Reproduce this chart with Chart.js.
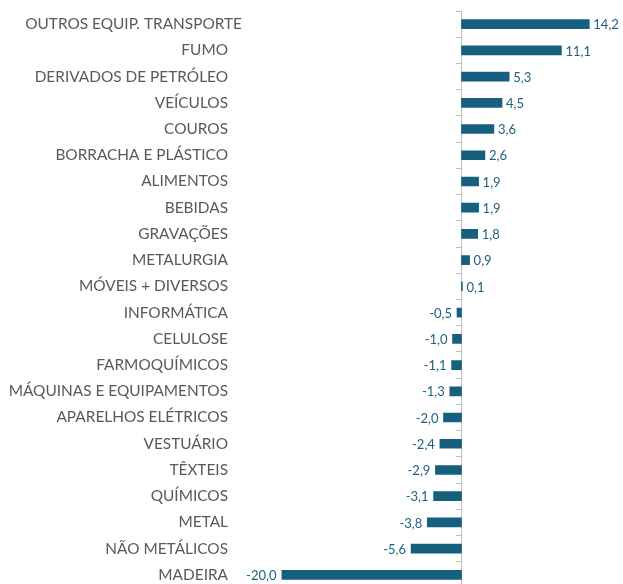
<!DOCTYPE html>
<html>
<head>
<meta charset="utf-8">
<script src="https://cdn.jsdelivr.net/npm/chart.js@4/dist/chart.umd.min.js"></script>
<style>
html,body{margin:0;padding:0;background:#fff;overflow:hidden;width:623px;height:584px;}
#wrap{position:relative;width:623px;height:588px;}
</style>
</head>
<body>
<div id="wrap"><canvas id="c" width="623" height="588"></canvas></div>
<script>
const categories = [
  "OUTROS EQUIP. TRANSPORTE","FUMO","DERIVADOS DE PETRÓLEO","VEÍCULOS","COUROS",
  "BORRACHA E PLÁSTICO","ALIMENTOS","BEBIDAS","GRAVAÇÕES","METALURGIA",
  "MÓVEIS + DIVERSOS","INFORMÁTICA","CELULOSE","FARMOQUÍMICOS","MÁQUINAS E EQUIPAMENTOS",
  "APARELHOS ELÉTRICOS","VESTUÁRIO","TÊXTEIS","QUÍMICOS","METAL","NÃO METÁLICOS","MADEIRA"
];
const values = [14.2,11.1,5.3,4.5,3.6,2.6,1.9,1.9,1.8,0.9,0.1,-0.5,-1.0,-1.1,-1.3,-2.0,-2.4,-2.9,-3.1,-3.8,-5.6,-20.0];

const BAR = '#175f7f';
const LABEL = '#1e6080';
const CAT = '#595959';
const AXIS = '#bfbfbf';

const valueLabels = {
  id: 'valueLabels',
  afterDatasetsDraw(chart) {
    const ctx = chart.ctx;
    const meta = chart.getDatasetMeta(0);
    ctx.save();
    ctx.font = '13px Lato';
    ctx.fillStyle = LABEL;
    ctx.textBaseline = 'middle';
    meta.data.forEach((bar, i) => {
      const v = values[i];
      const t = v.toFixed(1).replace('.', ',');
      if (v >= 0) { ctx.textAlign = 'left'; ctx.fillText(t, bar.x + 4, bar.y + 1); }
      else { ctx.textAlign = 'right'; ctx.fillText(t, bar.x - 5, bar.y + 1); }
    });
    ctx.restore();
  }
};

const shiftFirstLabel = {
  id: 'shiftFirstLabel',
  beforeDraw(chart) {
    const items = chart.scales.y.getLabelItems(chart.chartArea);
    if (items && items[0] && !items[0]._shifted) {
      items[0].options.translation[0] += 14;
      items[0]._shifted = true;
    }
  }
};

new Chart(document.getElementById('c'), {
  type: 'bar',
  data: {
    labels: categories,
    datasets: [{
      data: values,
      backgroundColor: BAR,
      borderWidth: 0,
      barThickness: 9,
      yAxisID: 'y'
    }]
  },
  options: {
    indexAxis: 'y',
    responsive: false,
    animation: false,
    layout: { padding: { top: 11, right: 17.5, bottom: 0, left: 0 } },
    plugins: { legend: { display: false }, tooltip: { enabled: false } },
    scales: {
      x: { display: false, min: -20, max: 16 },
      y: {
        type: 'category',
        position: 'left',
        offset: true,
        grid: { display: false },
        border: { display: false },
        ticks: { color: CAT, font: { family: 'Lato', size: 15.4 }, padding: 45.5, autoSkip: false },
        afterFit(scale) { scale.width = 281.5; scale.paddingTop = 0; scale.paddingBottom = 0; }
      },
      y2: {
        type: 'category',
        position: { x: 0 },
        offset: true,
        grid: { offset: true, drawOnChartArea: false, drawTicks: true, tickLength: 5, color: AXIS, lineWidth: 1 },
        border: { display: true, color: AXIS, width: 1 },
        ticks: { display: false },
        afterFit(scale) { scale.paddingTop = 0; scale.paddingBottom = 0; }
      }
    }
  },
  plugins: [valueLabels, shiftFirstLabel]
});
</script>
</body>
</html>
